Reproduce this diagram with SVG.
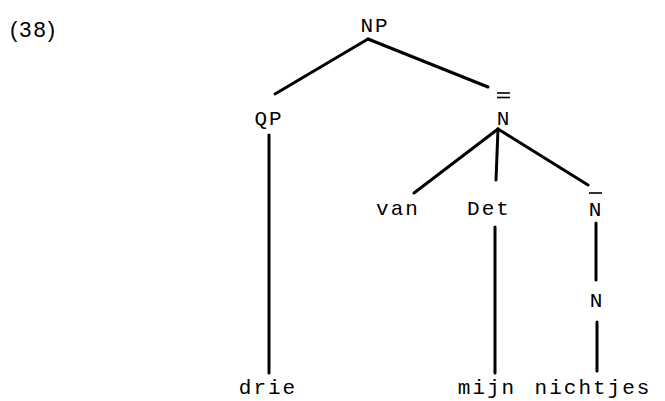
<svg xmlns="http://www.w3.org/2000/svg" width="665" height="401" viewBox="0 0 665 401">
  <style>
    .lbl { font-family: "Liberation Mono", "DejaVu Sans Mono", monospace; font-size: 21px; fill: #000; text-anchor: middle; letter-spacing: 2px; }
    .num { font-family: "Liberation Sans", Arial, sans-serif; font-size: 22px; fill: #000; letter-spacing: 2px; }
    .edge { stroke: #000; stroke-width: 3; stroke-linecap: round; fill: none; }
    .bar { stroke: #000; stroke-width: 1.6; fill: none; }
  </style>
  <rect width="665" height="401" fill="#fff"/>

  <text class="num" x="10" y="37">(38)</text>

  <!-- tree branches -->
  <g id="edges">
    <line class="edge" x1="368" y1="39" x2="275" y2="94"/>
    <line class="edge" x1="368" y1="39" x2="488" y2="87"/>
    <line class="edge" x1="269" y1="135" x2="269" y2="373"/>
    <line class="edge" x1="498" y1="129" x2="414" y2="193"/>
    <line class="edge" x1="498" y1="129" x2="496" y2="180"/>
    <line class="edge" x1="498" y1="129" x2="588" y2="185"/>
    <line class="edge" x1="495" y1="227" x2="495" y2="373"/>
    <line class="edge" x1="596" y1="223" x2="596" y2="280"/>
    <line class="edge" x1="597" y1="322" x2="597" y2="371"/>
  </g>

  <g id="np"><text class="lbl" x="375" y="32">NP</text></g>
  <g id="qp"><text class="lbl" x="269" y="125">QP</text></g>
  <g id="n2">
    <text class="lbl" x="504" y="125">N</text>
    <line class="bar" x1="497" y1="93" x2="510" y2="93"/>
    <line class="bar" x1="497" y1="97.5" x2="510" y2="97.5"/>
  </g>
  <g id="van"><text class="lbl" x="398" y="215">van</text></g>
  <g id="det"><text class="lbl" x="489" y="215">Det</text></g>
  <g id="n1">
    <text class="lbl" x="596" y="216">N</text>
    <line class="bar" x1="589" y1="193" x2="602" y2="193"/>
  </g>
  <g id="n0"><text class="lbl" x="597" y="307">N</text></g>
  <g id="drie"><text class="lbl" x="268" y="394">drie</text></g>
  <g id="mijn"><text class="lbl" x="487" y="394">mijn</text></g>
  <g id="nichtjes"><text class="lbl" x="593" y="394">nichtjes</text></g>
</svg>
